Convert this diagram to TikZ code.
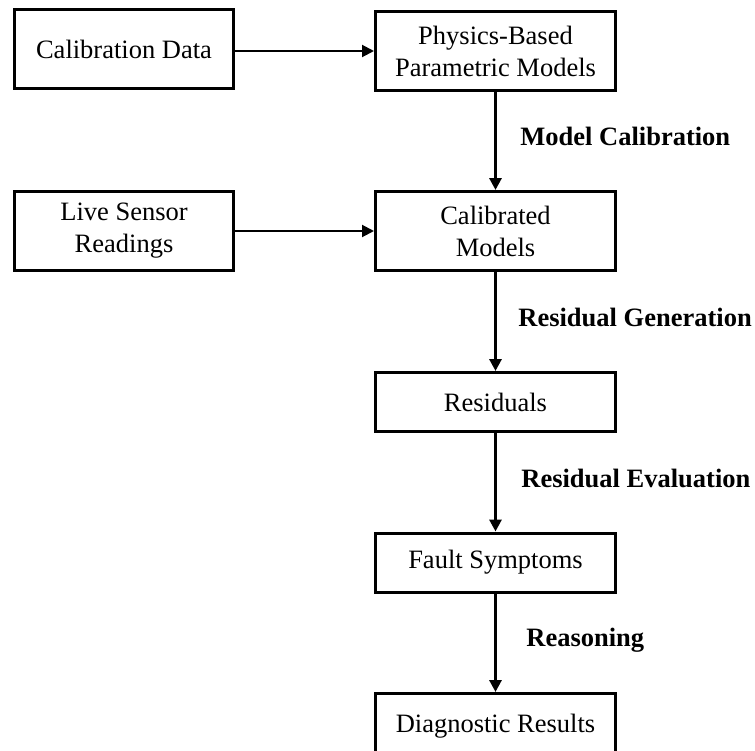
\documentclass[tikz,border=0pt]{standalone}
\usepackage{fontspec}
\setmainfont{Liberation Serif}
\usetikzlibrary{arrows.meta}
\begin{document}
\begin{tikzpicture}[x=0.5pt,y=-0.5pt,
  box/.style={draw,line width=1.5pt,inner sep=0pt,align=center,
    font=\fontsize{13.25}{16}\selectfont},
  leftbox/.style={box,minimum width=109.5pt,minimum height=39.5pt},
  mainbox/.style={box,minimum width=120pt,minimum height=39.5pt},
  slimbox/.style={box,minimum width=120pt,minimum height=29.5pt},
  flow/.style={line width=1.5pt,-{Triangle[length=6pt,width=6pt]}},
  feed/.style={line width=1pt,-{Triangle[length=6pt,width=6pt]}},
  steplabel/.style={anchor=base west,inner sep=0pt,
    font=\fontsize{13.25}{16}\selectfont\bfseries}]
\useasboundingbox (0,0) rectangle (755,750);
\clip (0,0) rectangle (755,750);

% input boxes
\node[leftbox] (cal)  at (124,49)  {Calibration Data};
\node[leftbox] (live) at (124,231) {Live Sensor\\Readings};

% main chain
\node[mainbox] (phys)  at (495.5,51)  {Physics-Based\\Parametric Models};
\node[mainbox] (calm)  at (495.5,231) {Calibrated\\Models};
\node[slimbox] (res)   at (495.5,402) {Residuals};
\node[slimbox] (fault) at (495.5,562.5) {Fault Symptoms};
\node[slimbox,minimum height=33pt] (diag) at (495.5,726.5) {Diagnostic Results};

% connectors
\draw[feed] (cal.east |- phys.west) -- (phys.west);
\draw[feed] (live.east |- calm.west) -- (calm.west);
\draw[flow] (phys) -- (calm);
\draw[flow] (calm) -- (res);
\draw[flow] (res) -- (fault);
\draw[flow] (fault) -- (diag);

% step labels
\node[steplabel] (l1) at (520,145) {Model Calibration};
\node[steplabel] (l2) at (518,326) {Residual Generation};
\node[steplabel] (l3) at (521,487) {Residual Evaluation};
\node[steplabel] (l4) at (526,646) {Reasoning};
\end{tikzpicture}
\end{document}
